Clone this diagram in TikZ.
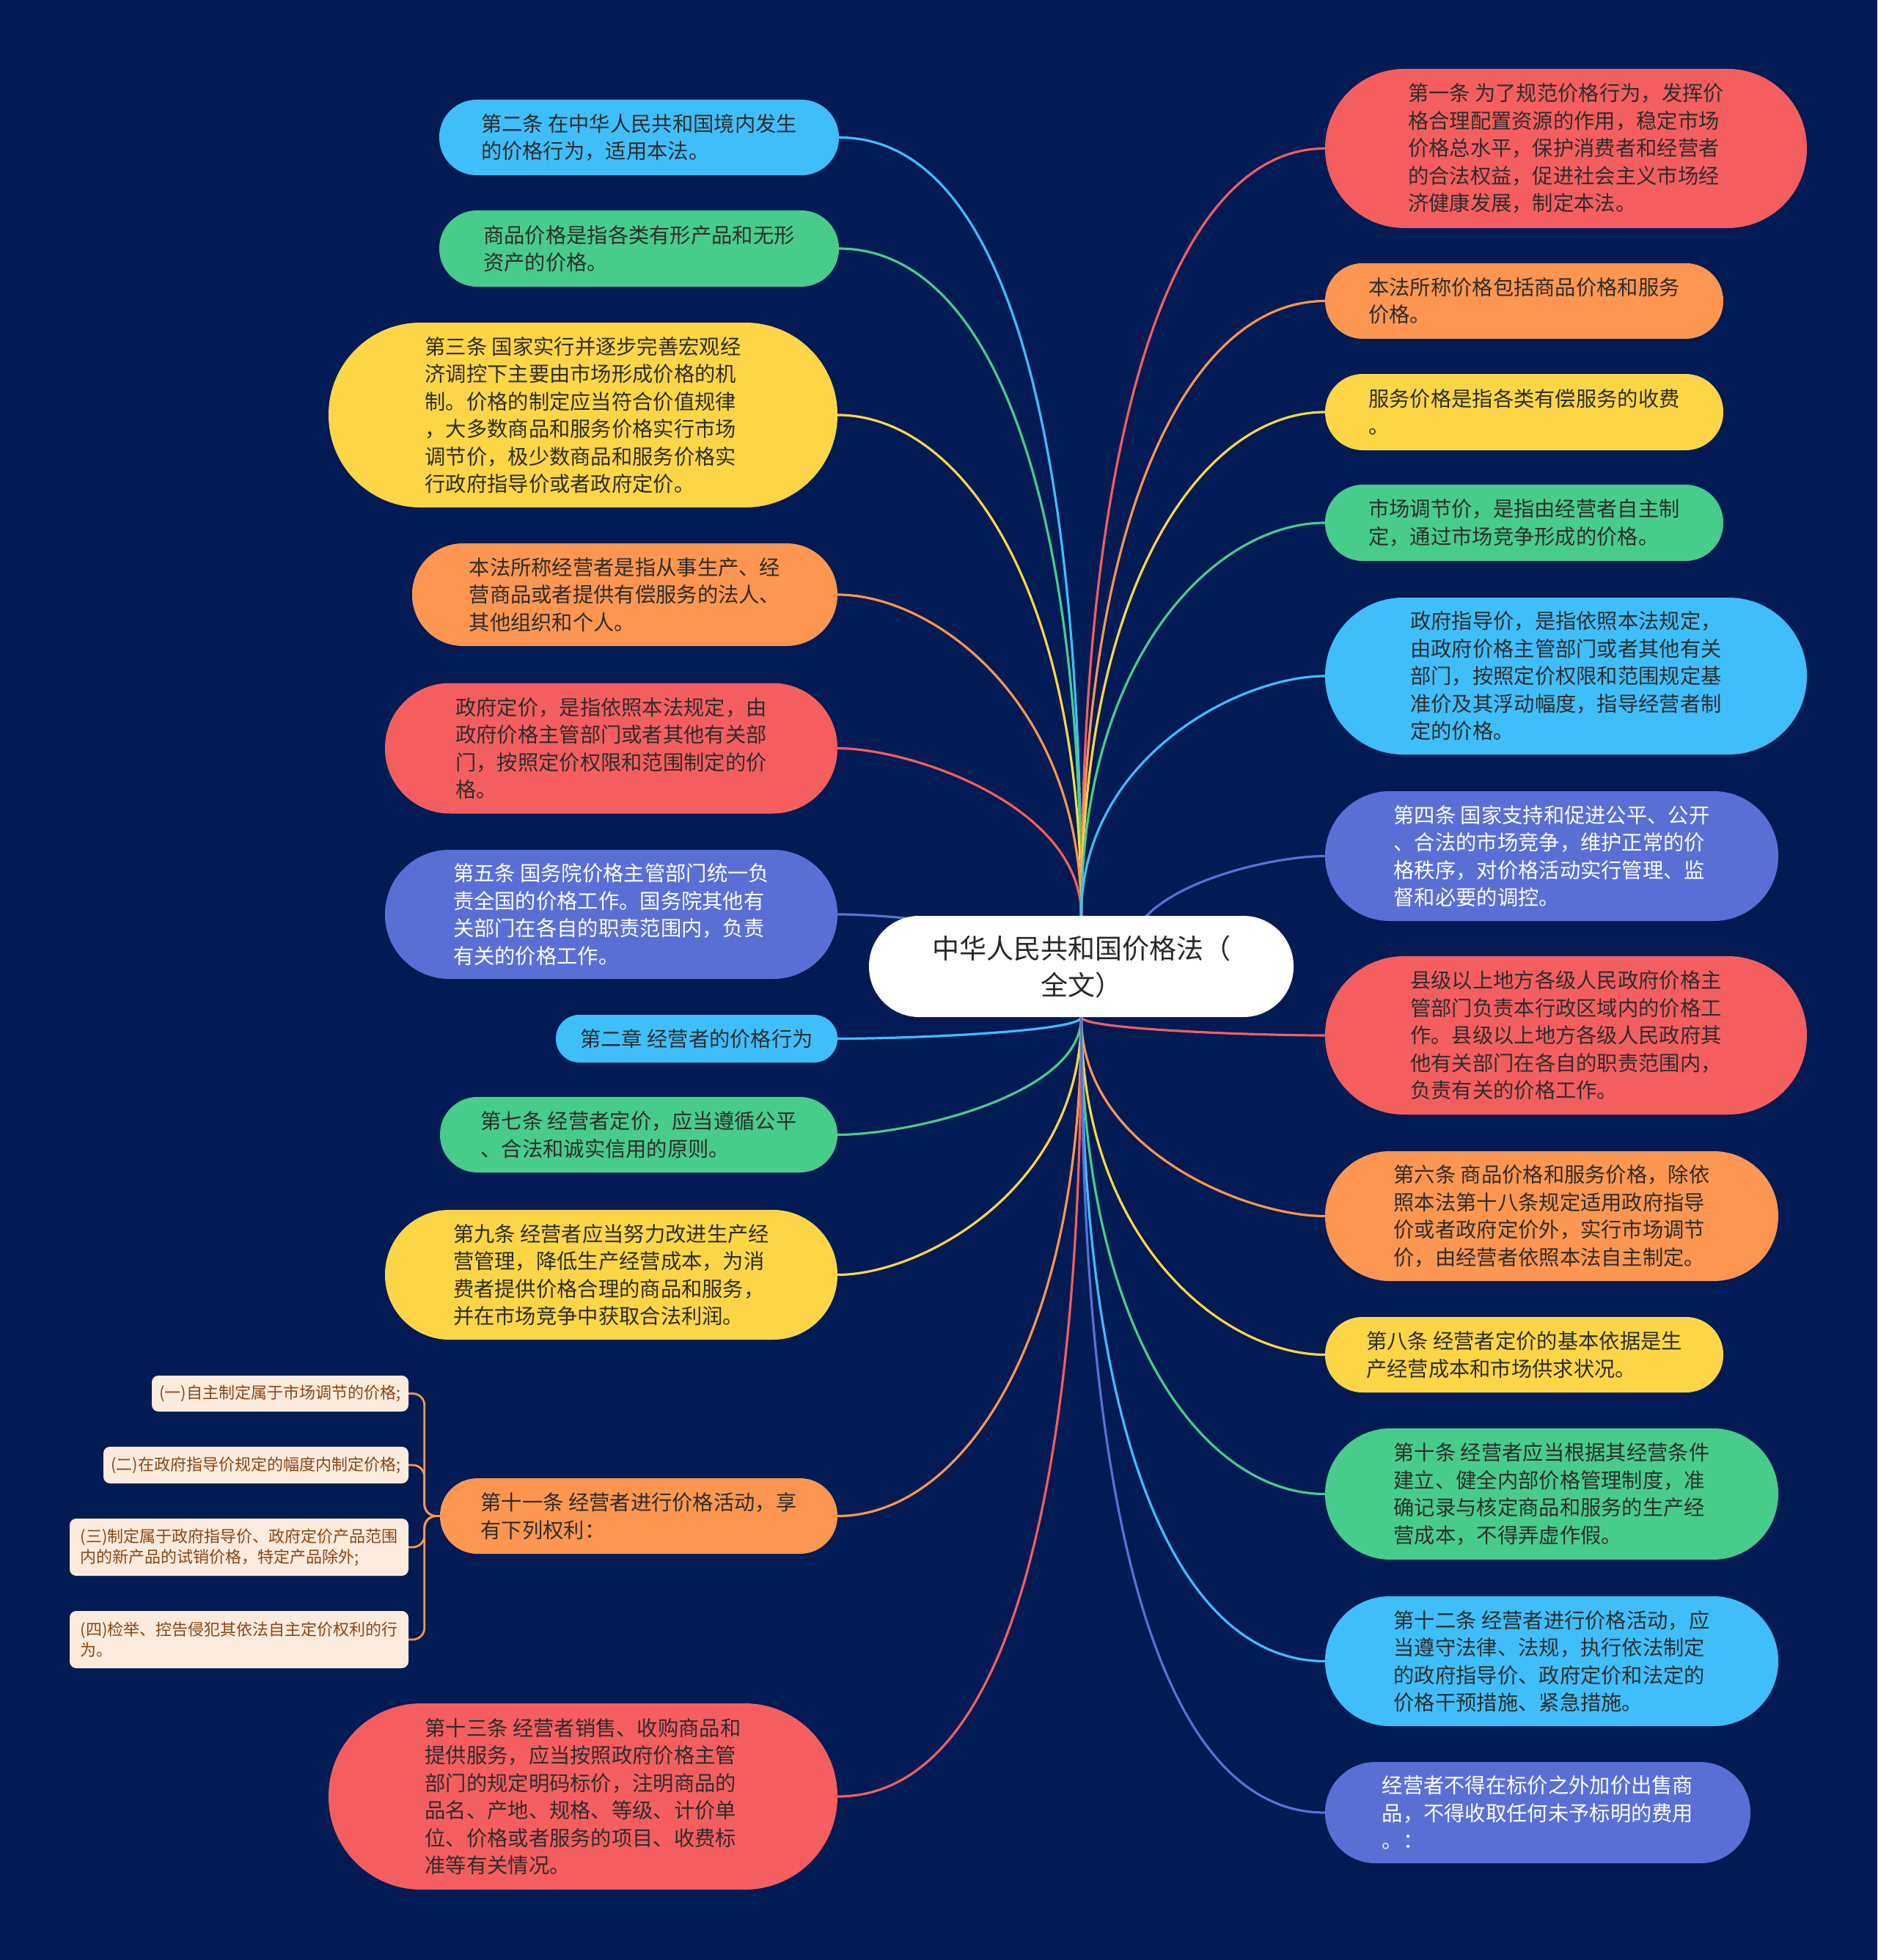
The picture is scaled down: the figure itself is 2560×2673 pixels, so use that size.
\documentclass[tikz,border=0pt]{standalone}
\usepackage{fontspec}
\setmainfont{Noto Sans CJK SC}
\usetikzlibrary{calc}
\pgfdeclarelayer{bg}
\pgfsetlayers{bg,main}
\definecolor{bgc}{RGB}{3,27,84}
\definecolor{cR}{RGB}{245,94,95}
\definecolor{cO}{RGB}{253,150,80}
\definecolor{cY}{RGB}{253,214,72}
\definecolor{cG}{RGB}{72,204,140}
\definecolor{cB}{RGB}{64,190,250}
\definecolor{cP}{RGB}{88,112,214}
\definecolor{txt}{RGB}{45,45,45}
\definecolor{ctxt}{RGB}{40,40,40}
\definecolor{subf}{RGB}{253,236,222}
\definecolor{subt}{RGB}{139,69,19}
\newcommand{\lnk}[4]{\draw[ln,#1] (#2) .. controls ($(#2)!0.66!(#2 |- #3)$) and ($(#3)!#4!(#2 |- #3)$) .. (#3);}
\begin{document}
\begin{tikzpicture}[x=1pt,y=-1pt,
  nd/.style={rectangle, align=left, inner sep=0pt, text=txt, font=\fontsize{28.3}{37.5}\selectfont},
  pill/.style n args={3}{fill=#1, minimum width=#2, minimum height=#3, rounded corners=#3/2-0.5},
  subbox/.style={rectangle, align=left, inner sep=0pt, fill=subf, text=subt, rounded corners=9, font=\fontsize{22}{28.5}\selectfont},
  ln/.style={line width=3.2pt}]
\useasboundingbox (0,0) rectangle (2560,2673);
% central
\node[rectangle, fill=white, minimum width=579, minimum height=138, rounded corners=68.5, align=center, text=ctxt, font=\fontsize{37}{50}\selectfont] (C) at (1474.5,1318) {中华人民共和国价格法（\\全文）};
\coordinate (Cl) at (1400,1300);
\coordinate (Cr) at (1540,1300);
% left nodes
\node[nd, pill={cB}{545}{103}] (L1) at (871.5,187.5) {第二条 在中华人民共和国境内发生\\的价格行为，适用本法。};
\node[nd, pill={cG}{545}{104}] (L2) at (871.5,339) {商品价格是指各类有形产品和无形\\资产的价格。};
\node[nd, pill={cY}{694}{252}] (L3) at (795,566) {第三条 国家实行并逐步完善宏观经\\济调控下主要由市场形成价格的机\\制。价格的制定应当符合价值规律\\，大多数商品和服务价格实行市场\\调节价，极少数商品和服务价格实\\行政府指导价或者政府定价。};
\node[nd, pill={cO}{580}{140}] (L4) at (852,811) {本法所称经营者是指从事生产、经\\营商品或者提供有偿服务的法人、\\其他组织和个人。};
\node[nd, pill={cR}{617}{178}] (L5) at (833.5,1020.5) {政府定价，是指依照本法规定，由\\政府价格主管部门或者其他有关部\\门，按照定价权限和范围制定的价\\格。};
\node[nd, pill={cP}{617}{176}, text=white] (L6) at (833.5,1247) {第五条 国务院价格主管部门统一负\\责全国的价格工作。国务院其他有\\关部门在各自的职责范围内，负责\\有关的价格工作。};
\node[nd, pill={cB}{384}{65}] (L7) at (950,1416.5) {第二章 经营者的价格行为};
\node[nd, pill={cG}{542}{103}] (L8) at (871,1547.5) {第七条 经营者定价，应当遵循公平\\、合法和诚实信用的原则。};
\node[nd, pill={cY}{617}{177}] (L9) at (833.5,1738.5) {第九条 经营者应当努力改进生产经\\营管理，降低生产经营成本，为消\\费者提供价格合理的商品和服务，\\并在市场竞争中获取合法利润。};
\node[nd, pill={cO}{542}{103}] (L10) at (871,2067.5) {第十一条 经营者进行价格活动，享\\有下列权利：};
\node[nd, pill={cR}{694}{254}] (L11) at (795,2450) {第十三条 经营者销售、收购商品和\\提供服务，应当按照政府价格主管\\部门的规定明码标价，注明商品的\\品名、产地、规格、等级、计价单\\位、价格或者服务的项目、收费标\\准等有关情况。};
% sub nodes
\node[subbox, minimum width=350, minimum height=49] (S1) at (382,1900.5) {(一)自主制定属于市场调节的价格;};
\node[subbox, minimum width=416, minimum height=50] (S2) at (349,1998) {(二)在政府指导价规定的幅度内制定价格;};
\node[subbox, minimum width=462, minimum height=78] (S3) at (326,2110) {(三)制定属于政府指导价、政府定价产品范围\\内的新产品的试销价格，特定产品除外;};
\node[subbox, minimum width=462, minimum height=78] (S4) at (326,2236) {(四)检举、控告侵犯其依法自主定价权利的行\\为。};
% right nodes
\node[nd, pill={cR}{657}{217}] (R1) at (2135.5,202.5) {第一条 为了规范价格行为，发挥价\\格合理配置资源的作用，稳定市场\\价格总水平，保护消费者和经营者\\的合法权益，促进社会主义市场经\\济健康发展，制定本法。};
\node[nd, pill={cO}{543}{103}] (R2) at (2078.5,410.5) {本法所称价格包括商品价格和服务\\价格。};
\node[nd, pill={cY}{543}{104}] (R3) at (2078.5,562) {服务价格是指各类有偿服务的收费\\。};
\node[nd, pill={cG}{543}{104}] (R4) at (2078.5,713) {市场调节价，是指由经营者自主制\\定，通过市场竞争形成的价格。};
\node[nd, pill={cB}{657}{214}] (R5) at (2135.5,922) {政府指导价，是指依照本法规定，\\由政府价格主管部门或者其他有关\\部门，按照定价权限和范围规定基\\准价及其浮动幅度，指导经营者制\\定的价格。};
\node[nd, pill={cP}{618}{177}, text=white] (R6) at (2116,1167.5) {第四条 国家支持和促进公平、公开\\、合法的市场竞争，维护正常的价\\格秩序，对价格活动实行管理、监\\督和必要的调控。};
\node[nd, pill={cR}{657}{216}] (R7) at (2135.5,1412) {县级以上地方各级人民政府价格主\\管部门负责本行政区域内的价格工\\作。县级以上地方各级人民政府其\\他有关部门在各自的职责范围内，\\负责有关的价格工作。};
\node[nd, pill={cO}{618}{177}] (R8) at (2116,1658.5) {第六条 商品价格和服务价格，除依\\照本法第十八条规定适用政府指导\\价或者政府定价外，实行市场调节\\价，由经营者依照本法自主制定。};
\node[nd, pill={cY}{543}{103}] (R9) at (2078.5,1847.5) {第八条 经营者定价的基本依据是生\\产经营成本和市场供求状况。};
\node[nd, pill={cG}{618}{179}] (R10) at (2116,2037.5) {第十条 经营者应当根据其经营条件\\建立、健全内部价格管理制度，准\\确记录与核定商品和服务的生产经\\营成本，不得弄虚作假。};
\node[nd, pill={cB}{618}{177}] (R11) at (2116,2265.5) {第十二条 经营者进行价格活动，应\\当遵守法律、法规，执行依法制定\\的政府指导价、政府定价和法定的\\价格干预措施、紧急措施。};
\node[nd, pill={cP}{580}{138}, text=white] (R12) at (2097,2472) {经营者不得在标价之外加价出售商\\品，不得收取任何未予标明的费用\\。：};
\begin{pgfonlayer}{bg}
\fill[bgc] (0,0) rectangle (2560,2673);
% top connectors
\lnk{cB}{C.north}{L1.east}{0.65}
\lnk{cG}{C.north}{L2.east}{0.6}
\lnk{cY}{C.north}{L3.east}{0.5}
\lnk{cO}{C.north}{L4.east}{0.4}
\lnk{cR}{C.north}{L5.east}{0.3}
\lnk{cP}{Cl}{L6.east}{0.3}
\lnk{cR}{C.north}{R1.west}{0.6}
\lnk{cO}{C.north}{R2.west}{0.55}
\lnk{cY}{C.north}{R3.west}{0.5}
\lnk{cG}{C.north}{R4.west}{0.45}
\lnk{cB}{C.north}{R5.west}{0.35}
\lnk{cP}{Cr}{R6.west}{0.3}
% bottom connectors
\lnk{cB}{C.south}{L7.east}{0.3}
\lnk{cG}{C.south}{L8.east}{0.3}
\lnk{cY}{C.south}{L9.east}{0.35}
\lnk{cO}{C.south}{L10.east}{0.5}
\lnk{cR}{C.south}{L11.east}{0.65}
\lnk{cR}{C.south}{R7.west}{0.3}
\lnk{cO}{C.south}{R8.west}{0.33}
\lnk{cY}{C.south}{R9.west}{0.42}
\lnk{cG}{C.south}{R10.west}{0.5}
\lnk{cB}{C.south}{R11.west}{0.6}
\lnk{cP}{C.south}{R12.west}{0.65}
% sub connectors
\draw[line width=2.8pt, cO, rounded corners=16] (L10.west) -- ++(-21,0) |- (S1.east);
\draw[line width=2.8pt, cO, rounded corners=16] (L10.west) -- ++(-21,0) |- (S2.east);
\draw[line width=2.8pt, cO, rounded corners=16] (L10.west) -- ++(-21,0) |- (S3.east);
\draw[line width=2.8pt, cO, rounded corners=16] (L10.west) -- ++(-21,0) |- (S4.east);
\end{pgfonlayer}
\end{tikzpicture}
\end{document}
